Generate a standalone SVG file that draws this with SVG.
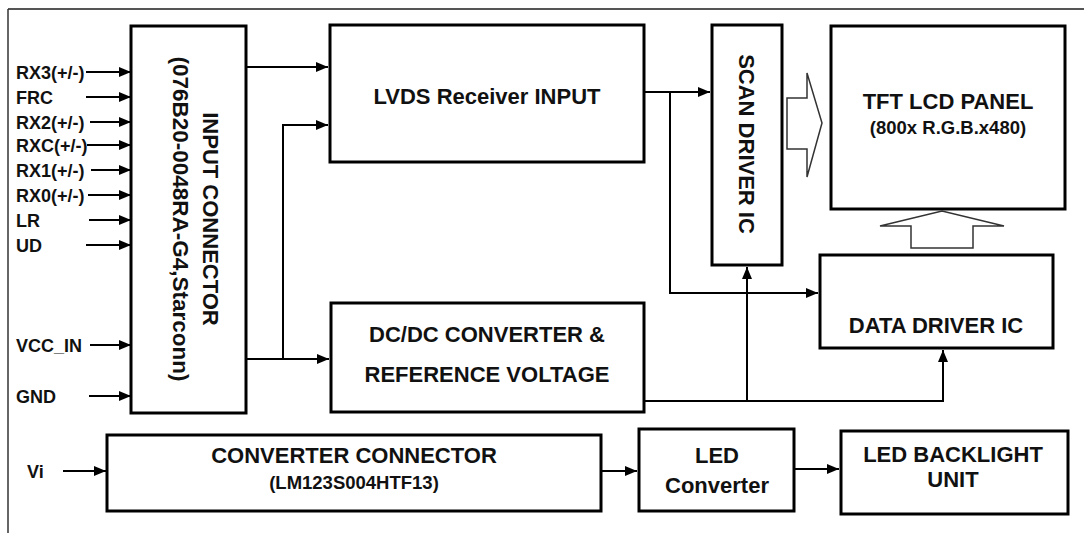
<svg xmlns="http://www.w3.org/2000/svg" width="1084" height="533" viewBox="0 0 1084 533">
<style>
text{font-family:"Liberation Sans",Arial,sans-serif;font-weight:bold;fill:#111;}
.lbl{font-size:18px;}
.big{font-size:22px;text-anchor:middle;}
.sm{font-size:18.5px;text-anchor:middle;}
.box{fill:#fff;stroke:#000;stroke-width:3;}
.ln{fill:none;stroke:#000;stroke-width:2;}
.hol{fill:#fff;stroke:#333;stroke-width:1.5;}
</style>
<defs>
<marker id="ah" markerUnits="userSpaceOnUse" markerWidth="13" markerHeight="11" refX="12" refY="5" orient="auto">
<path d="M0,0 L12,5 L0,10 z" fill="#000"/>
</marker>
</defs>
<rect width="1084" height="533" fill="#fff"/>
<g id="frame">
<line x1="8" y1="9" x2="1084" y2="9" stroke="#555" stroke-width="2"/>
<line x1="8" y1="9" x2="8" y2="533" stroke="#333" stroke-width="1.5"/>
</g>
<g id="input-labels">
<text class="lbl" x="16" y="79">RX3(+/-)</text>
<text class="lbl" x="16" y="104">FRC</text>
<text class="lbl" x="16" y="129">RX2(+/-)</text>
<text class="lbl" x="16" y="152">RXC(+/-)</text>
<text class="lbl" x="16" y="177">RX1(+/-)</text>
<text class="lbl" x="16" y="202">RX0(+/-)</text>
<text class="lbl" x="16" y="227">LR</text>
<text class="lbl" x="16" y="252">UD</text>
<text class="lbl" x="16" y="352">VCC_IN</text>
<text class="lbl" x="16" y="403">GND</text>
<text class="lbl" x="27" y="478">Vi</text>
</g>
<g id="input-connector">
<rect class="box" x="131" y="26" width="115" height="387"/>
<text class="big" transform="translate(211,219) rotate(90)" y="8">INPUT CONNECTOR</text>
<text class="big" transform="translate(181,219) rotate(90)" y="8" style="font-size:22.5px">(076B20-0048RA-G4,Starconn)</text>
</g>
<g id="lvds">
<rect class="box" x="330" y="25" width="314" height="137"/>
<text class="big" x="487" y="104">LVDS Receiver INPUT</text>
</g>
<g id="dcdc">
<rect class="box" x="331" y="303" width="313" height="109"/>
<text class="big" x="487" y="342">DC/DC CONVERTER &amp;</text>
<text class="big" x="487" y="382">REFERENCE VOLTAGE</text>
</g>
<g id="scan-driver">
<rect class="box" x="712" y="25" width="70" height="240"/>
<text class="big" transform="translate(747,144) rotate(90)" y="8">SCAN DRIVER IC</text>
</g>
<g id="tft-panel">
<rect class="box" x="831" y="26" width="234" height="183"/>
<text class="big" x="948" y="109">TFT LCD PANEL</text>
<text class="sm" x="948" y="134">(800x R.G.B.x480)</text>
</g>
<g id="data-driver">
<rect class="box" x="820" y="255" width="233" height="93"/>
<text class="big" x="936" y="333">DATA DRIVER IC</text>
</g>
<g id="converter-connector">
<rect class="box" x="107" y="435" width="494" height="76"/>
<text class="big" x="354" y="463">CONVERTER CONNECTOR</text>
<text class="sm" x="354" y="489">(LM123S004HTF13)</text>
</g>
<g id="led-converter">
<rect class="box" x="639" y="429" width="155" height="82"/>
<text class="big" x="717" y="463">LED</text>
<text class="big" x="717" y="493">Converter</text>
</g>
<g id="led-backlight">
<rect class="box" x="841" y="431" width="227" height="83"/>
<text class="big" x="953" y="462">LED BACKLIGHT</text>
<text class="big" x="953" y="487">UNIT</text>
</g>
<g id="connectors">
<line class="ln" x1="86" y1="72" x2="131" y2="72" marker-end="url(#ah)"/>
<line class="ln" x1="86" y1="97" x2="131" y2="97" marker-end="url(#ah)"/>
<line class="ln" x1="90" y1="122" x2="131" y2="122" marker-end="url(#ah)"/>
<line class="ln" x1="87" y1="145" x2="131" y2="145" marker-end="url(#ah)"/>
<line class="ln" x1="91" y1="170" x2="131" y2="170" marker-end="url(#ah)"/>
<line class="ln" x1="88" y1="195" x2="131" y2="195" marker-end="url(#ah)"/>
<line class="ln" x1="89" y1="220" x2="131" y2="220" marker-end="url(#ah)"/>
<line class="ln" x1="86" y1="245" x2="131" y2="245" marker-end="url(#ah)"/>
<line class="ln" x1="90" y1="345" x2="131" y2="345" marker-end="url(#ah)"/>
<line class="ln" x1="89" y1="396" x2="131" y2="396" marker-end="url(#ah)"/>
<line class="ln" x1="63" y1="471" x2="106" y2="471" marker-end="url(#ah)"/>
<line class="ln" x1="246" y1="67" x2="328" y2="67" marker-end="url(#ah)"/>
<polyline class="ln" points="246,359 283,359 283,125 328,125" marker-end="url(#ah)"/>
<line class="ln" x1="283" y1="359" x2="329" y2="359" marker-end="url(#ah)"/>
<line class="ln" x1="644" y1="92" x2="710" y2="92" marker-end="url(#ah)"/>
<polyline class="ln" points="670,92 670,293 818,293" marker-end="url(#ah)"/>
<polyline class="ln" points="644,401 943,401 943,350" marker-end="url(#ah)"/>
<line class="ln" x1="747" y1="401" x2="747" y2="267" marker-end="url(#ah)"/>
<line class="ln" x1="601" y1="471" x2="637" y2="471" marker-end="url(#ah)"/>
<line class="ln" x1="794" y1="469" x2="839" y2="469" marker-end="url(#ah)"/>
<path class="hol" d="M787,98 L807,98 L807,73 L822,123 L807,177 L807,149 L787,149 z"/>
<path class="hol" d="M911,248 L911,226 L880,226 L942,211 L1004,226 L973,226 L973,248 z"/>
</g>
</svg>
